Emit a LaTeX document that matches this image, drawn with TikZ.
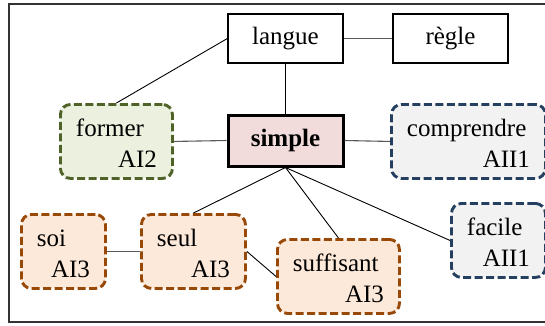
\documentclass[tikz,border=0pt]{standalone}
\usepackage{fontspec}
\setmainfont{Liberation Serif}
\definecolor{grnB}{HTML}{4F6228}
\definecolor{grnF}{HTML}{EBF1DE}
\definecolor{bluB}{HTML}{243F60}
\definecolor{bluF}{HTML}{F2F2F2}
\definecolor{orgB}{HTML}{984807}
\definecolor{orgF}{HTML}{FDE9D9}
\definecolor{simF}{HTML}{F2DCDB}
\begin{document}
\begin{tikzpicture}[x=1pt,y=-1pt,
  every node/.style={font=\fontsize{25}{31.5}\selectfont},
  plainbox/.style={draw=black, line width=1.3pt, minimum width=115pt, minimum height=49pt, inner sep=0pt},
  mainbox/.style={draw=black, line width=3pt, fill=simF, minimum width=115pt, minimum height=51pt, inner sep=0pt},
  dbox/.style={rounded corners=10pt, line width=2.9pt, dash pattern=on 8pt off 3.5pt,
    align=left, inner xsep=15.5pt, inner ysep=0pt, text height=32pt, text depth=42pt, anchor=north west},
  grnbox/.style={dbox, draw=grnB, fill=grnF},
  blubox/.style={dbox, draw=bluB, fill=bluF},
  orgbox/.style={dbox, draw=orgB, fill=orgF},
  link/.style={draw=black, line width=0.9pt},
  hlink/.style={draw=black!65, line width=1.1pt}
]
\useasboundingbox (0,0) rectangle (545,325);
\draw[line width=1.2pt, draw=black!80] (546,4) -- (9,4) -- (9,322) -- (546,322);

\node[plainbox] (langue) at (285.5,38.5) {langue};
\node[plainbox] (regle) at (450.5,38.5) {règle};
\node[mainbox] (simple) at (285.5,140.5) {\textbf{simple}};

\node[grnbox, text width=81pt] (former) at (59,103) {former\\\hspace*{\fill}AI2};
\node[blubox, text width=123pt] (comprendre) at (390,103) {comprendre\\\hspace*{\fill}AII1};
\node[blubox, text width=63pt] (facile) at (450,202) {facile\\\hspace*{\fill}AII1};
\node[orgbox, text width=53pt] (soi) at (20,213) {soi\\\hspace*{\fill}AI3};
\node[orgbox, text width=73pt] (seul) at (140,213) {seul\\\hspace*{\fill}AI3};
\node[orgbox, text width=91pt] (suffisant) at (276,238) {suffisant\\\hspace*{\fill}AI3};

\draw[link] (langue.west) -- (former.north);
\draw[hlink] (langue.east) -- (regle.west);
\draw[link] (langue.south) -- (simple.north);
\draw[hlink] (former.east) -- (simple.west);
\draw[hlink] (simple.east) -- (comprendre.west);
\draw[link] (simple.south) -- (seul.north);
\draw[link] (simple.south) -- (suffisant.north);
\draw[link] (simple.south) -- (facile.west);
\draw[hlink] (soi.east) -- (seul.west);
\draw[link] (seul.east) -- (suffisant.west);
\end{tikzpicture}
\end{document}
